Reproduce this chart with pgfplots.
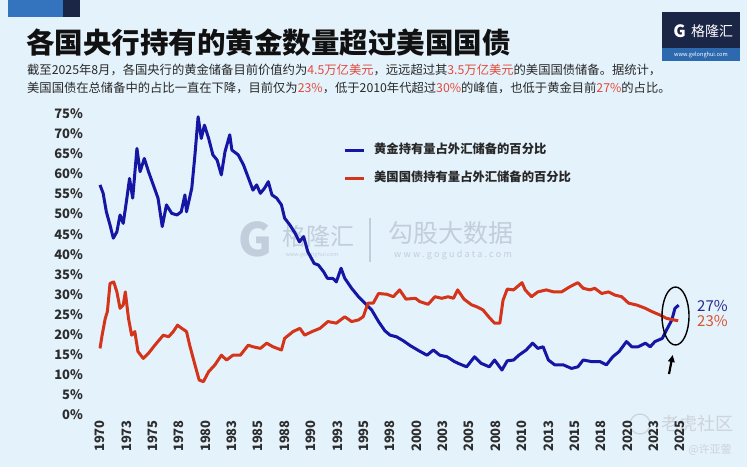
\documentclass[border=0pt]{standalone}
\usepackage{pgfplots}
\pgfplotsset{compat=1.18}
\usepackage{fontspec}
\setmainfont{Noto Sans CJK SC}
\usetikzlibrary{arrows.meta}
\definecolor{bg}{RGB}{228,242,251}
\definecolor{blueline}{RGB}{22,22,165}
\definecolor{redline}{RGB}{212,52,26}
\definecolor{hl}{RGB}{226,74,60}
\definecolor{navy}{RGB}{27,37,69}
\definecolor{tlblue}{RGB}{52,116,190}
\definecolor{logoband}{RGB}{45,105,175}
\definecolor{wm}{RGB}{194,206,220}
\definecolor{wm2}{RGB}{205,211,219}
\definecolor{titlec}{RGB}{17,17,17}
\definecolor{subc}{RGB}{40,40,40}
\definecolor{tickc}{RGB}{45,45,45}
\definecolor{lab27}{RGB}{40,40,140}
\definecolor{lab23}{RGB}{217,84,50}

\pgfplotstableread{
yr val
1970.0 57.3
1970.3 55.2
1970.6 50.6
1970.95 47.3
1971.26 44.0
1971.6 45.6
1971.9 49.8
1972.2 47.7
1972.5 53.1
1972.8 58.9
1973.1 54.0
1973.5 66.4
1973.8 60.6
1974.2 63.9
1974.6 60.6
1975.05 57.3
1975.5 54.0
1975.9 46.9
1976.3 52.3
1976.8 50.2
1977.3 49.8
1977.7 50.6
1978.05 54.8
1978.2 50.6
1978.7 56.5
1979.0 64.8
1979.3 74.3
1979.6 68.9
1979.9 72.2
1980.3 68.9
1980.7 64.8
1981.1 63.5
1981.5 59.8
1981.85 65.6
1982.3 69.8
1982.5 66.0
1983.1 64.8
1983.6 62.3
1984.2 58.1
1984.5 56.0
1984.85 57.3
1985.2 55.2
1985.6 56.5
1985.95 58.1
1986.3 54.8
1986.75 54.0
1987.2 52.3
1987.5 49.0
1988.0 47.3
1988.5 45.2
1988.9 43.1
1989.3 44.4
1989.7 40.6
1990.3 37.7
1990.7 37.3
1991.2 35.6
1991.55 34.0
1992.05 34.0
1992.4 33.1
1992.85 36.5
1993.2 34.0
1993.85 31.5
1994.5 29.4
1995.1 27.8
1995.75 26.1
1996.4 23.2
1997.0 20.9
1997.5 19.8
1998.1 19.4
1998.75 18.4
1999.4 17.2
2000.3 15.8
2001.0 14.8
2001.6 16.1
2002.2 14.8
2002.9 14.4
2003.6 13.2
2004.1 12.6
2004.75 11.9
2005.5 14.4
2006.1 12.8
2006.9 11.9
2007.4 13.6
2008.1 11.1
2008.6 13.4
2009.2 13.6
2009.7 14.8
2010.4 16.1
2011.0 17.8
2011.5 16.5
2012.0 16.9
2012.5 13.6
2013.1 12.4
2013.9 12.4
2014.7 11.5
2015.3 11.9
2015.8 13.6
2016.6 13.2
2017.4 13.2
2018.0 12.4
2018.6 14.4
2019.2 15.7
2019.9 18.2
2020.4 16.9
2021.0 16.9
2021.7 17.8
2022.15 16.9
2022.6 18.2
2023.3 19.0
2023.7 21.1
2024.2 23.6
2024.5 26.5
2024.85 27.3
}\goldtable

\pgfplotstableread{
yr val
1970.0 16.5
1970.2 19.8
1970.5 24.0
1970.7 25.7
1970.95 32.7
1971.3 33.1
1971.6 30.6
1971.9 26.5
1972.2 27.3
1972.4 30.6
1972.7 24.0
1973.0 19.8
1973.3 20.7
1973.6 15.7
1974.1 14.0
1974.6 15.3
1975.2 17.3
1976.0 19.8
1976.5 19.4
1976.95 20.7
1977.35 22.3
1977.75 21.5
1978.2 20.7
1978.5 17.3
1979.0 12.4
1979.4 8.6
1979.8 8.2
1980.3 10.7
1980.9 12.4
1981.5 14.8
1982.0 13.6
1982.6 14.8
1983.3 14.8
1984.05 17.3
1984.5 16.9
1985.2 16.5
1985.8 17.8
1986.4 16.9
1987.2 16.1
1987.5 19.0
1988.3 20.7
1988.95 21.5
1989.4 19.8
1990.1 20.7
1990.85 21.5
1991.6 23.2
1992.4 22.8
1993.2 24.4
1993.85 23.2
1994.5 23.6
1994.95 24.4
1995.4 27.8
1995.9 27.8
1996.4 30.2
1997.2 30.0
1997.8 29.4
1998.4 31.1
1999.0 28.8
1999.9 29.0
2000.3 28.2
2001.1 27.5
2001.75 29.4
2002.4 29.0
2003.0 29.4
2003.5 29.0
2003.9 31.1
2004.5 28.8
2005.2 27.4
2005.7 26.9
2006.3 26.1
2006.9 24.2
2007.4 22.8
2007.9 22.8
2008.2 28.5
2008.6 31.3
2009.2 31.1
2010.0 32.9
2010.3 31.1
2010.9 29.4
2011.5 30.6
2012.3 31.1
2013.0 30.6
2013.75 30.6
2014.55 31.9
2015.3 32.9
2015.8 31.5
2016.45 31.1
2016.9 31.5
2017.55 30.2
2018.2 30.6
2018.8 29.8
2019.45 29.4
2020.1 27.8
2020.9 27.3
2021.7 26.5
2022.3 25.7
2023.1 24.8
2023.7 24.0
2024.4 23.6
2024.8 23.4
}\ustable

\begin{document}
\begin{tikzpicture}
\path[use as bounding box, fill=bg] (0,0) rectangle (747bp,-467bp);
\begin{scope}[x=1bp,y=-1bp]
  % top-left decoration
  \fill[tlblue] (8,0) rectangle (63,17);
  \fill[navy] (63,0) rectangle (80,17);
  % top-right logo
  \fill[navy] (662,12) rectangle (740,61);
  \fill[logoband] (662,48) rectangle (740,61);
  \node[inner sep=0, text=white, font=\fontsize{17bp}{18bp}\selectfont\bfseries] at (679.5,31) {G};
  \node[inner sep=0, text=white, font=\fontsize{14bp}{15bp}\selectfont] at (712,31) {格隆汇};
  \node[inner sep=0, text=white, font=\fontsize{5.6bp}{6bp}\selectfont] at (701,54.5) {www.gelonghui.com};
  % title
  \node[anchor=base west, inner sep=0, text=titlec, font=\fontsize{28.5bp}{30bp}\selectfont\bfseries] at (26,53) {各国央行持有的黄金数量超过美国国债};
  \node[anchor=base west, inner sep=0, text=subc, font=\fontsize{12.3bp}{14bp}\selectfont] at (27,74.7) {截至2025年8月，各国央行的黄金储备目前价值约为\textcolor{hl}{4.5万亿美元}，远远超过其\textcolor{hl}{3.5万亿美元}的美国国债储备。据统计，};
  \node[anchor=base west, inner sep=0, text=subc, font=\fontsize{12.3bp}{14bp}\selectfont] at (27,92.7) {美国国债在总储备中的占比一直在下降，目前仅为\textcolor{hl}{23\%}，低于2010年代超过\textcolor{hl}{30\%}的峰值，也低于黄金目前\textcolor{hl}{27\%}的占比。};
  % watermarks
  \node[inner sep=0, text=wm, font=\fontsize{46bp}{46bp}\selectfont\bfseries] at (255.5,239.5) {G};
  \node[inner sep=0, text=wm, font=\fontsize{24bp}{25bp}\selectfont] at (318,236) {格隆汇};
  \node[inner sep=0, text=wm, font=\fontsize{5.5bp}{6bp}\selectfont] at (312,255) {www.gelonghui.com};
  \draw[wm, line width=1.2bp] (370,218) -- (370,262);
  \node[inner sep=0, text=wm, font=\fontsize{25bp}{26bp}\selectfont] at (450.5,233) {勾股大数据};
  \node[inner sep=0, text=wm, font=\fontsize{9bp}{10bp}\selectfont\addfontfeatures{LetterSpace=25}] at (453,255) {www.gogudata.com};
  \draw[wm2, line width=1.2bp] (640,424) circle (10);
  \node[inner sep=0, text=wm2, font=\fontsize{18bp}{19bp}\selectfont] at (697,424) {老虎社区};
  \node[inner sep=0, text=wm2, font=\fontsize{11bp}{12bp}\selectfont] at (710,450) {@许亚蓥};
\end{scope}
\begin{axis}[
  scale only axis,
  width=618.23bp, height=304.53bp,
  at={(83.12bp,-414.5bp)}, anchor=south west,
  xmin=1968.4, xmax=2027, ymin=0, ymax=76,
  axis line style={draw=none},
  major tick length=0pt,
  tick style={draw=none},
  xtick={1970,1972.5,1975,1977.5,1980,1982.5,1985,1987.5,1990,1992.5,1995,1997.5,2000,2002.5,2005,2007.5,2010,2012.5,2015,2017.5,2020,2022.5,2025},
  xticklabels={1970,1973,1975,1978,1980,1983,1985,1988,1990,1993,1995,1998,2000,2003,2005,2008,2010,2013,2015,2018,2020,2023,2025},
  ytick={0,5,10,15,20,25,30,35,40,45,50,55,60,65,70,75},
  yticklabels={0\%,5\%,10\%,15\%,20\%,25\%,30\%,35\%,40\%,45\%,50\%,55\%,60\%,65\%,70\%,75\%},
  xticklabel style={rotate=90, anchor=east, inner sep=0pt, text=tickc, font=\fontsize{13bp}{14bp}\selectfont\bfseries},
  xticklabel shift=5.5bp,
  yticklabel style={anchor=east, inner sep=0pt, text=tickc, font=\fontsize{13bp}{14bp}\selectfont\bfseries},
  yticklabel shift=0pt,
  legend style={at={(axis cs:1993.03,62.27)}, anchor=west, draw=none, fill=none, inner sep=0pt,
    row sep=16bp, /tikz/column sep=9bp,
    font=\fontsize{12.3bp}{14bp}\selectfont\bfseries, text=subc,
    nodes={inner sep=0pt, text height=9bp, text depth=3bp}},
  legend cell align=left,
  legend image code/.code={\draw[#1, line width=3bp] (0bp,0bp) -- (19bp,0bp);},
]
\addplot[color=blueline, line width=3bp, line join=round] table[x=yr,y=val] {\goldtable};
\addlegendentry{黄金持有量占外汇储备的百分比}
\addplot[color=redline, line width=3bp, line join=round] table[x=yr,y=val] {\ustable};
\addlegendentry{美国国债持有量占外汇储备的百分比}
\end{axis}
\begin{scope}[x=1bp,y=-1bp]
  \draw[black, line width=1.4bp] (675.5,316) ellipse [x radius=13.5, y radius=29];
  \draw[black, line width=2.2bp, -{Triangle[length=7bp,width=6.5bp]}] (669,374) -- (672.7,355);
  \node[anchor=west, inner sep=0, text=lab27, font=\fontsize{15bp}{16bp}\selectfont] at (697,306) {27\%};
  \node[anchor=west, inner sep=0, text=lab23, font=\fontsize{15bp}{16bp}\selectfont] at (697,320.7) {23\%};
\end{scope}
\end{tikzpicture}
\end{document}
